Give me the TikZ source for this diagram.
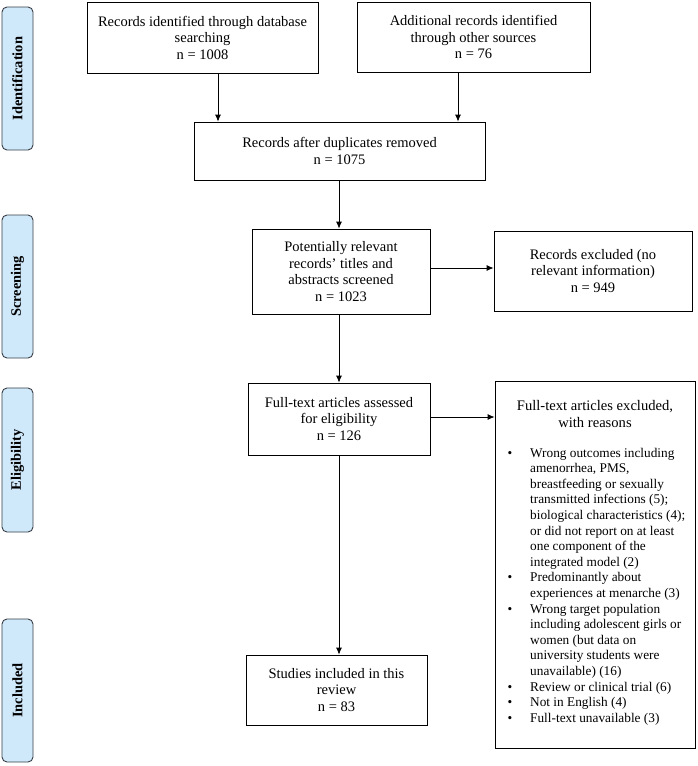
\documentclass[tikz,border=0pt]{standalone}
\usepackage{fontspec}
\setmainfont{Liberation Serif}
\usetikzlibrary{arrows.meta}
\definecolor{barfill}{RGB}{207,232,250}
\definecolor{barline}{RGB}{55,62,70}
\tikzset{
  box/.style={draw=black, line width=0.8pt, inner sep=0pt, align=center,
    font=\fontsize{14.5}{16.5}\selectfont},
  phase/.style={draw=barline, fill=barfill, line width=0.9pt, rounded corners=5pt,
    minimum width=31pt, inner sep=0pt,
    font=\fontsize{14.4}{16}\selectfont\bfseries},
  arr/.style={draw=black, line width=0.8pt, -{Latex[length=7pt,width=6pt]}},
}
\newcommand{\blt}{\makebox[30pt][l]{\hspace{7.5pt}\textbullet}}
\begin{document}
\begin{tikzpicture}[x=1pt,y=-1pt]
\useasboundingbox (0,0) rectangle (698,766);
% phase bars
\node[phase, minimum height=143pt] (pid) at (17.5,78.5) {};
\node[rotate=90, font=\fontsize{14.4}{16}\selectfont\bfseries] (tid) at (pid.center) {Identification};
\node[phase, minimum height=143pt] (psc) at (17.5,286.5) {};
\node[rotate=90, font=\fontsize{14.4}{16}\selectfont\bfseries] (tsc) at (psc.center) {Screening};
\node[phase, minimum height=144pt] (pel) at (17.5,460) {};
\node[rotate=90, font=\fontsize{14.4}{16}\selectfont\bfseries] (tel) at (pel.center) {Eligibility};
\node[phase, minimum height=143pt] (pin) at (17.5,690.5) {};
\node[rotate=90, font=\fontsize{14.4}{16}\selectfont\bfseries] (tin) at (pin.center) {Included};
% boxes
\node[box, minimum width=231pt, minimum height=71pt] (b1) at (202.5,37.5)
  {Records identified through database\\searching\\n = 1008};
\node[box, minimum width=233pt, minimum height=70pt] (b2) at (473.5,37)
  {Additional records identified\\through other sources\\n = 76};
\node[box, minimum width=291pt, minimum height=58pt] (b3) at (339.5,151)
  {Records after duplicates removed\\n = 1075};
\node[box, minimum width=178pt, minimum height=85pt] (b4) at (341,271.5)
  {Potentially relevant\\records’ titles and\\abstracts screened\\n = 1023};
\node[box, minimum width=198pt, minimum height=80pt] (b5) at (593,271)
  {Records excluded (no\\relevant information)\\n = 949};
\node[box, minimum width=182pt, minimum height=72pt] (b6) at (339,419)
  {Full-text articles assessed\\for eligibility\\n = 126};
\node[box, minimum width=200pt, minimum height=367pt] (b7) at (595,564.5) {};
\node[font=\fontsize{14.6}{17}\selectfont, align=center, inner sep=0pt] (h7) at (595,413.5)
  {Full-text articles excluded,\\with reasons};
\node[anchor=north west, inner sep=0pt, font=\fontsize{13.3}{15.6}\selectfont] (l7) at (500,446)
  {\begin{tabular}{@{}l@{}l@{}}
  \blt & Wrong outcomes including\\
   & amenorrhea, PMS,\\
   & breastfeeding or sexually\\
   & transmitted infections (5);\\
   & biological characteristics (4);\\
   & or did not report on at least\\
   & one component of the\\
   & integrated model (2)\\
  \blt & Predominantly about\\
   & experiences at menarche (3)\\
  \blt & Wrong target population\\
   & including adolescent girls or\\
   & women (but data on\\
   & university students were\\
   & unavailable) (16)\\
  \blt & Review or clinical trial (6)\\
  \blt & Not in English (4)\\
  \blt & Full-text unavailable (3)
  \end{tabular}};
\node[box, minimum width=181pt, minimum height=70pt] (b8) at (336.5,690)
  {Studies included in this\\review\\n = 83};
% connector positions
\coordinate (c1) at (218,0);
\coordinate (c2) at (458,0);
\coordinate (cm) at (339,0);
\coordinate (r1) at (0,268);
\coordinate (r2) at (0,417);
% connectors
\draw[arr] (b1.south -| c1) -- (b3.north -| c1);
\draw[arr] (b2.south -| c2) -- (b3.north -| c2);
\draw[arr] (b3.south -| cm) -- (b4.north -| cm);
\draw[arr] (b4.east |- r1) -- (b5.west |- r1);
\draw[arr] (b4.south -| cm) -- (b6.north -| cm);
\draw[arr] (b6.east |- r2) -- (b7.west |- r2);
\draw[arr] (b6.south -| cm) -- (b8.north -| cm);
\end{tikzpicture}
\end{document}
